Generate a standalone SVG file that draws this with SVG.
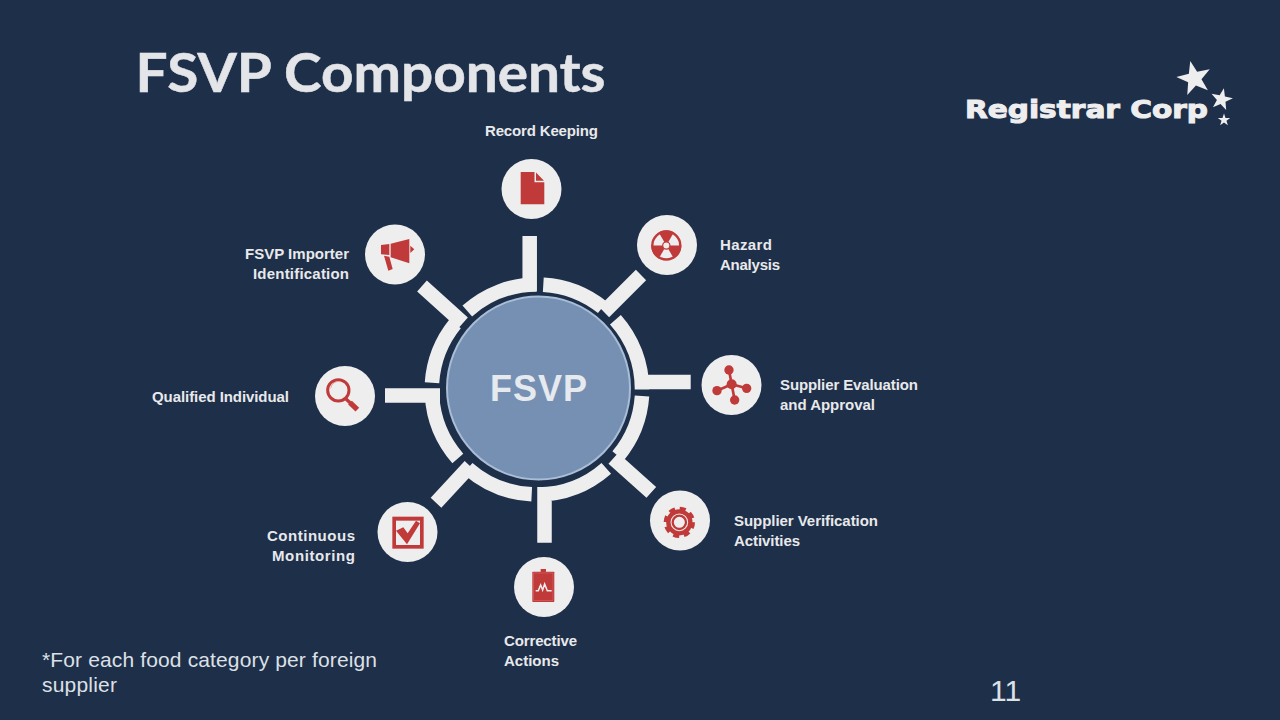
<svg xmlns="http://www.w3.org/2000/svg" xmlns:xlink="http://www.w3.org/1999/xlink" width="1280" height="720" viewBox="0 0 1280 720">
<style>
.lbl{font-family:"Liberation Sans",Arial,sans-serif;font-weight:700;font-size:15px;fill:#e8e9eb}
.reg{font-family:"Liberation Sans",Arial,sans-serif;fill:#dde0e5}
.disc{fill:#eeeeee}
.red{fill:#c13a3a}
.seg{fill:none;stroke:#eeeeee;stroke-width:14.5}
</style>
<defs>
<polygon id="star" points="0,-10 2.35,-3.24 9.51,-3.09 3.8,1.24 5.88,8.09 0,4 -5.88,8.09 -3.8,1.24 -9.51,-3.09 -2.35,-3.24" fill="#eeeeee"/>
</defs>
<rect width="1280" height="720" fill="#1e2f4a"/>
<text id="title" x="135.5" y="92" font-family="Lato,'Open Sans',sans-serif" font-weight="700" font-size="54" fill="#e3e5e8" stroke="#e3e5e8" stroke-width=".5" textLength="470" lengthAdjust="spacingAndGlyphs">FSVP Components</text>
<g id="logo">
<text x="965" y="118" font-family="'DejaVu Sans',sans-serif" font-weight="700" font-size="24" fill="#eeeeee" stroke="#eeeeee" stroke-width="1" textLength="243" lengthAdjust="spacingAndGlyphs">Registrar Corp</text>
<use xlink:href="#star" href="#star" transform="translate(1194.3,78.5) rotate(-13) scale(1.8)"/>
<use xlink:href="#star" href="#star" transform="translate(1221.5,99.5) rotate(12) scale(1.15)"/>
<use xlink:href="#star" href="#star" transform="translate(1224,120) scale(.65)"/>
</g>
<g id="connectors">
<path class="seg" d="M467.3 311A105 105 0 0 1 536.7 284.5M529.7 236V291"/>
<path class="seg" d="M543.3 284.7A105 105 0 0 1 602.5 307.4M641 275L604 312"/>
<path class="seg" d="M615.4 319.7A105 105 0 0 1 642 389.5M635 382H690.7"/>
<path class="seg" d="M642 396A105 105 0 0 1 618 456M651.3 492.3L613.3 458.3"/>
<path class="seg" d="M606.3 468.4A105 105 0 0 1 538 494.5M544.5 487V542.7"/>
<path class="seg" d="M531.7 494.3A105 105 0 0 1 467.7 468.4M436 502.7L470 466"/>
<path class="seg" d="M457.8 458.4A105 105 0 0 1 432 395.5M385 395.5H440"/>
<path class="seg" d="M432 382.7A105 105 0 0 1 455.2 323.7M422 286L463 323"/>
</g>
<g id="hub">
<circle cx="538.5" cy="388" r="91.5" fill="#7590b3" stroke="#a9bdd6" stroke-width="2"/>
<text x="490" y="401" font-family="'Liberation Sans',sans-serif" font-weight="700" font-size="36" fill="#e6e9ee" textLength="97" lengthAdjust="spacing">FSVP</text>
</g>
<g id="node-record">
<circle class="disc" cx="531.5" cy="189" r="30"/>
<path class="red" d="M520.7 172H534.5V182.2H544.3V204.3H520.7Z"/>
<path class="red" d="M536 172.5L544 180.7H536Z"/>
<text class="lbl" x="485" y="136" textLength="113">Record Keeping</text>
</g>
<g id="node-hazard">
<circle class="disc" cx="667" cy="245" r="30"/>
<g transform="translate(666.3,245.5)">
<circle r="14" fill="none" stroke="#c13a3a" stroke-width="2.4"/>
<path class="red" d="M-7.5 -13L0 0L7.5 -13A15 15 0 0 0 -7.5 -13Z"/>
<path class="red" d="M15 0L0 0L7.5 13A15 15 0 0 0 15 0Z"/>
<path class="red" d="M-15 0L0 0L-7.5 13A15 15 0 0 1 -15 0Z"/>
<circle r="3.6" fill="#eeeeee" stroke="#c13a3a" stroke-width="1.2"/>
</g>
<text class="lbl" x="720" y="250" textLength="52">Hazard</text>
<text class="lbl" x="720" y="270" textLength="60">Analysis</text>
</g>
<g id="node-evaluation">
<circle class="disc" cx="731.5" cy="385" r="30"/>
<g transform="translate(640,345) scale(.3333)" fill="#c13a3a" stroke="#c13a3a">
<path d="M267 75L275 118M320 130L275 118M284 165L275 118M231 137L275 118" stroke-width="8" fill="none"/>
<circle cx="275" cy="118" r="15" stroke="none"/>
<circle cx="267" cy="75" r="14" stroke="none"/>
<circle cx="320" cy="130" r="14" stroke="none"/>
<circle cx="284" cy="165" r="14" stroke="none"/>
<circle cx="231" cy="137" r="14" stroke="none"/>
</g>
<text class="lbl" x="780" y="390" textLength="138">Supplier Evaluation</text>
<text class="lbl" x="780" y="410" textLength="95">and Approval</text>
</g>
<g id="node-verification">
<circle class="disc" cx="680" cy="520.5" r="30"/>
<g transform="translate(640,345) scale(.3333)">
<circle cx="118" cy="532" r="41" fill="none" stroke="#c13a3a" stroke-width="12" stroke-dasharray="18 14.2"/>
<circle cx="118" cy="532" r="33" fill="none" stroke="#c13a3a" stroke-width="13"/>
<circle cx="118" cy="532" r="20" fill="none" stroke="#c13a3a" stroke-width="7"/>
</g>
<text class="lbl" x="734" y="526" textLength="144">Supplier Verification</text>
<text class="lbl" x="734" y="546" textLength="66">Activities</text>
</g>
<g id="node-corrective">
<circle class="disc" cx="544" cy="587" r="30"/>
<g transform="translate(370,490) scale(.3333)">
<rect class="red" x="512" y="237" width="16" height="10"/>
<rect class="red" x="487" y="245" width="66" height="91" rx="2"/>
<rect x="491" y="249" width="58" height="83" fill="none" stroke="#d97f7f" stroke-width="1.2"/>
<path d="M497 302H505L512 285L518 300L524 282L532 302H545" fill="none" stroke="#eeeeee" stroke-width="4.5"/>
</g>
<text class="lbl" x="504" y="646" textLength="73">Corrective</text>
<text class="lbl" x="504" y="666" textLength="55">Actions</text>
</g>
<g id="node-monitoring">
<circle class="disc" cx="407.5" cy="532" r="30"/>
<g transform="translate(370,490) scale(.3333)">
<rect class="red" x="67" y="80" width="94" height="96"/>
<rect class="disc" x="78" y="92" width="72" height="73"/>
<path class="red" d="M78 122L100 112L113 130L138 92L150 100L111 163Z"/>
</g>
<text class="lbl" x="267" y="541" textLength="88">Continuous</text>
<text class="lbl" x="272" y="561" textLength="83">Monitoring</text>
</g>
<g id="node-qualified">
<circle class="disc" cx="345" cy="396" r="30"/>
<g transform="translate(300,215) scale(.3333)">
<circle cx="115" cy="526" r="32" fill="none" stroke="#c13a3a" stroke-width="9"/>
<path d="M92 520A24 24 0 0 1 122 500" fill="none" stroke="#e2a5a5" stroke-width="3"/>
<path d="M138 552L152 565" fill="none" stroke="#c13a3a" stroke-width="10"/>
<path d="M150 563L172 584" fill="none" stroke="#c13a3a" stroke-width="16"/>
</g>
<text class="lbl" x="152" y="402" textLength="137">Qualified Individual</text>
</g>
<g id="node-importer">
<circle class="disc" cx="395" cy="254.5" r="30"/>
<g transform="translate(300,215) scale(.3333)">
<path class="red" d="M243 90L268 87V120L243 118Z"/>
<path class="red" d="M272 86L328 72V145L272 127Z"/>
<path class="red" d="M252 122L265 167L278 162L268 125Z"/>
<path class="red" d="M331 92L343 103L331 114Z"/>
</g>
<text class="lbl" x="245" y="259" textLength="104">FSVP Importer</text>
<text class="lbl" x="253" y="279" textLength="96">Identification</text>
</g>
<text class="reg" x="42" y="667" font-size="21" textLength="335">*For each food category per foreign</text>
<text class="reg" x="42" y="692" font-size="21" textLength="75">supplier</text>
<text class="reg" x="990" y="701" font-size="30">11</text>
</svg>
